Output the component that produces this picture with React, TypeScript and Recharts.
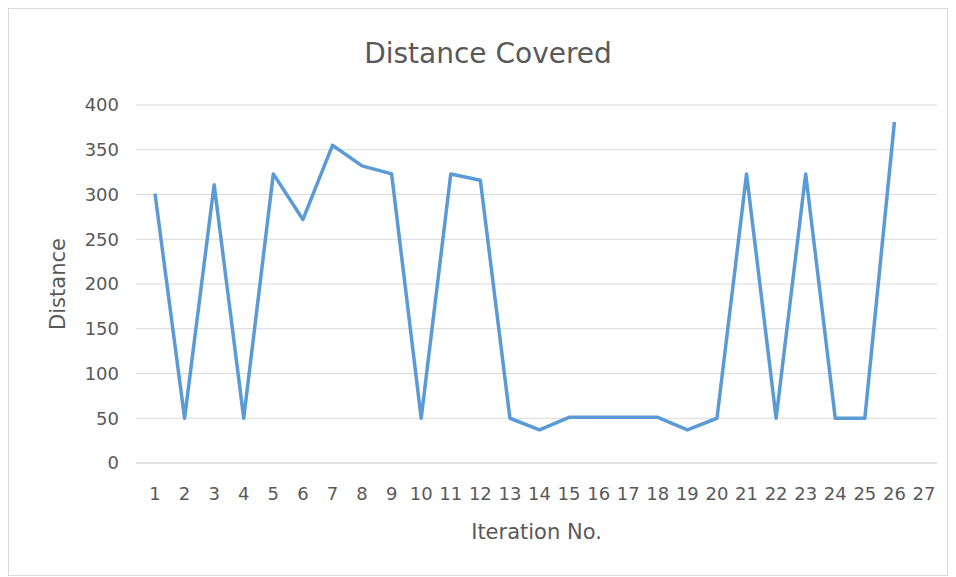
import { LineChart, Line, XAxis, YAxis, CartesianGrid } from 'recharts'

const iterations = [
  '1', '2', '3', '4', '5', '6', '7', '8', '9', '10', '11', '12', '13', '14',
  '15', '16', '17', '18', '19', '20', '21', '22', '23', '24', '25', '26', '27',
]
const distance: (number | null)[] = [
  301, 50, 311, 50, 323, 272, 355, 332, 323, 50, 323, 316, 50, 37,
  51, 51, 51, 51, 37, 50, 323, 50, 323, 50, 50, 381, null,
]
const yTicks = [0, 50, 100, 150, 200, 250, 300, 350, 400]

const data = iterations.map((it, i) => ({ iteration: it, distance: distance[i] }))

const FONT = '"DejaVu Sans", sans-serif'
const TEXT = '#595959'

export default function App() {
  return (
    <div
      style={{
        position: 'relative',
        width: 938,
        height: 566,
        border: '1px solid #d9d9d9',
        background: '#fff',
        fontFamily: FONT,
      }}
    >
      <div
        style={{
          position: 'absolute',
          top: 28,
          left: 0,
          right: 0,
          textAlign: 'center',
          transform: 'translateX(10px)',
          fontSize: 28,
          color: TEXT,
        }}
      >
        Distance Covered
      </div>
      <LineChart
        width={938}
        height={566}
        data={data}
        margin={{ top: 96, right: 10, left: 30, bottom: 32 }}
      >
        <CartesianGrid vertical={false} stroke="#d9d9d9" strokeWidth={1} />
        <XAxis
          dataKey="iteration"
          padding={{ left: 19, right: 13 }}
          height={80}
          tickSize={0}
          tickMargin={24}
          interval={0}
          axisLine={{ stroke: '#d9d9d9' }}
          tick={{ fontSize: 18, fill: TEXT, fontFamily: FONT }}
          label={{
            value: 'Iteration No.',
            position: 'insideBottom',
            offset: 4,
            fill: TEXT,
            fontSize: 21,
            fontFamily: FONT,
          }}
        />
        <YAxis
          width={97}
          domain={[0, 400]}
          ticks={yTicks}
          tickSize={0}
          tickMargin={17}
          axisLine={false}
          tick={{ fontSize: 18, fill: TEXT, fontFamily: FONT }}
          label={{
            value: 'Distance',
            angle: -90,
            position: 'insideLeft',
            offset: 19,
            fill: TEXT,
            fontSize: 21,
            fontFamily: FONT,
            style: { textAnchor: 'middle' },
          }}
        />
        <Line
          type="linear"
          dataKey="distance"
          stroke="#5b9bd5"
          strokeWidth={3.5}
          strokeLinejoin="round"
          dot={false}
          activeDot={false}
          isAnimationActive={false}
        />
      </LineChart>
    </div>
  )
}
